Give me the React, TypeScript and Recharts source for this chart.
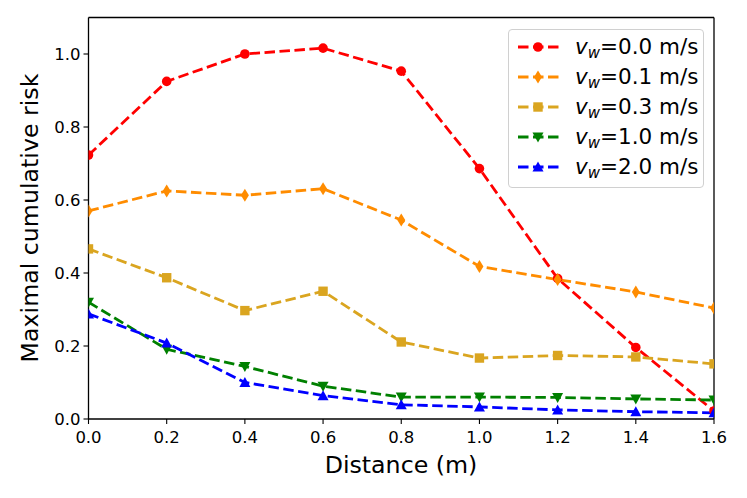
import React from "react";
import { LineChart, Line, XAxis, YAxis, Label, ReferenceLine } from "recharts";

const distance = [0, 0.2, 0.4, 0.6, 0.8, 1.0, 1.2, 1.4, 1.6];
const riskV00 = [0.723, 0.925, 1.0, 1.016, 0.953, 0.686, 0.385, 0.196, 0.022];
const riskV01 = [0.570, 0.625, 0.613, 0.631, 0.545, 0.418, 0.382, 0.348, 0.304];
const riskV03 = [0.466, 0.387, 0.297, 0.350, 0.211, 0.167, 0.174, 0.170, 0.151];
const riskV10 = [0.320, 0.191, 0.144, 0.090, 0.060, 0.060, 0.059, 0.055, 0.052];
const riskV20 = [0.288, 0.208, 0.100, 0.064, 0.039, 0.033, 0.025, 0.020, 0.017];
const xTicks = [0, 0.2, 0.4, 0.6, 0.8, 1.0, 1.2, 1.4, 1.6];
const yTicks = [0, 0.2, 0.4, 0.6, 0.8, 1.0];

const series = [
  { key: "v00", speed: "0.0", color: "#ff0000", marker: "circle" },
  { key: "v01", speed: "0.1", color: "#ff8c00", marker: "diamond" },
  { key: "v03", speed: "0.3", color: "#daa520", marker: "square" },
  { key: "v10", speed: "1.0", color: "#008000", marker: "triDown" },
  { key: "v20", speed: "2.0", color: "#0000ff", marker: "triUp" },
];

const data = distance.map((d, i) => ({
  d,
  v00: riskV00[i],
  v01: riskV01[i],
  v03: riskV03[i],
  v10: riskV10[i],
  v20: riskV20[i],
}));

const FONT = "'DejaVu Sans', sans-serif";

function Marker({ cx, cy, type, color }: { cx: number; cy: number; type: string; color: string }) {
  if (type === "circle") return <circle cx={cx} cy={cy} r={4.8} fill={color} />;
  if (type === "square") return <rect x={cx - 4.7} y={cy - 4.7} width={9.4} height={9.4} fill={color} />;
  if (type === "diamond")
    return <polygon points={`${cx},${cy - 6.5} ${cx + 4},${cy} ${cx},${cy + 6.5} ${cx - 4},${cy}`} fill={color} />;
  if (type === "triDown")
    return <polygon points={`${cx - 5.5},${cy - 4.5} ${cx + 5.5},${cy - 4.5} ${cx},${cy + 5.5}`} fill={color} />;
  return <polygon points={`${cx - 5.5},${cy + 4.5} ${cx + 5.5},${cy + 4.5} ${cx},${cy - 5.5}`} fill={color} />;
}

function LegendBox() {
  return (
    <div
      style={{
        position: "absolute",
        left: 508,
        top: 29,
        width: 196,
        height: 159,
        boxSizing: "border-box",
        border: "1px solid #d0d0d0",
        borderRadius: 4,
        background: "rgba(255,255,255,0.8)",
        fontFamily: FONT,
        fontSize: 21.5,
        paddingTop: 2,
      }}
    >
      {series.map((s) => (
        <div key={s.key} style={{ display: "flex", alignItems: "center", height: 30, lineHeight: "24px" }}>
          <svg width={58} height={20} style={{ marginLeft: 8, flexShrink: 0 }}>
            <line x1={1} y1={10} x2={42} y2={10} stroke={s.color} strokeWidth={2.8} strokeDasharray="10.5 4.5" />
            <Marker cx={21} cy={10} type={s.marker} color={s.color} />
          </svg>
          <span style={{ whiteSpace: "nowrap" }}>
            <span style={{ fontStyle: "italic" }}>v</span>
            <sub style={{ fontStyle: "italic", fontSize: 15, lineHeight: 0, verticalAlign: "-4px" }}>w</sub>={s.speed} m/s
          </span>
        </div>
      ))}
    </div>
  );
}

export default function App() {
  return (
    <div style={{ position: "absolute", left: 0, top: 0, width: 747, height: 498, background: "#fff" }}>
      <LineChart width={747} height={498} data={data} margin={{ top: 17.5, right: 33, bottom: 29, left: 28.5 }}>
        <XAxis
          dataKey="d"
          type="number"
          domain={[0, 1.6]}
          ticks={xTicks}
          tickFormatter={(v: number) => v.toFixed(1)}
          allowDataOverflow
          height={50}
          tickSize={5}
          tickMargin={7}
          axisLine={{ stroke: "#000", strokeWidth: 1.3 }}
          tickLine={{ stroke: "#000", strokeWidth: 1.1 }}
          tick={{ fill: "#000", fontSize: 16.5, fontFamily: FONT }}
        >
          <Label
            content={() => (
              <text x={401} y={473} textAnchor="middle" fontSize={23.7} fontFamily={FONT} fill="#000">
                Distance (m)
              </text>
            )}
          />
        </XAxis>
        <YAxis
          type="number"
          domain={[0, 1.1]}
          ticks={yTicks}
          tickFormatter={(v: number) => v.toFixed(1)}
          allowDataOverflow
          width={60}
          tickSize={5}
          tickMargin={3}
          axisLine={{ stroke: "#000", strokeWidth: 1.3 }}
          tickLine={{ stroke: "#000", strokeWidth: 1.1 }}
          tick={{ fill: "#000", fontSize: 16.5, fontFamily: FONT }}
        >
          <Label
            content={() => (
              <text x={38} y={218} transform="rotate(-90, 38, 218)" textAnchor="middle" fontSize={23.7} fontFamily={FONT} fill="#000">
                Maximal cumulative risk
              </text>
            )}
          />
        </YAxis>
        <ReferenceLine y={1.1} stroke="#000" strokeWidth={1.3} />
        <ReferenceLine x={1.6} stroke="#000" strokeWidth={1.3} />
        {series.map((s) => (
          <Line
            key={s.key}
            dataKey={s.key}
            stroke={s.color}
            strokeWidth={2.8}
            strokeDasharray="10.5 4.5"
            isAnimationActive={false}
            activeDot={false}
            dot={(p: any) => <Marker key={`${s.key}-${p.index}`} cx={p.cx} cy={p.cy} type={s.marker} color={s.color} />}
          />
        ))}
      </LineChart>
      <LegendBox />
    </div>
  );
}
